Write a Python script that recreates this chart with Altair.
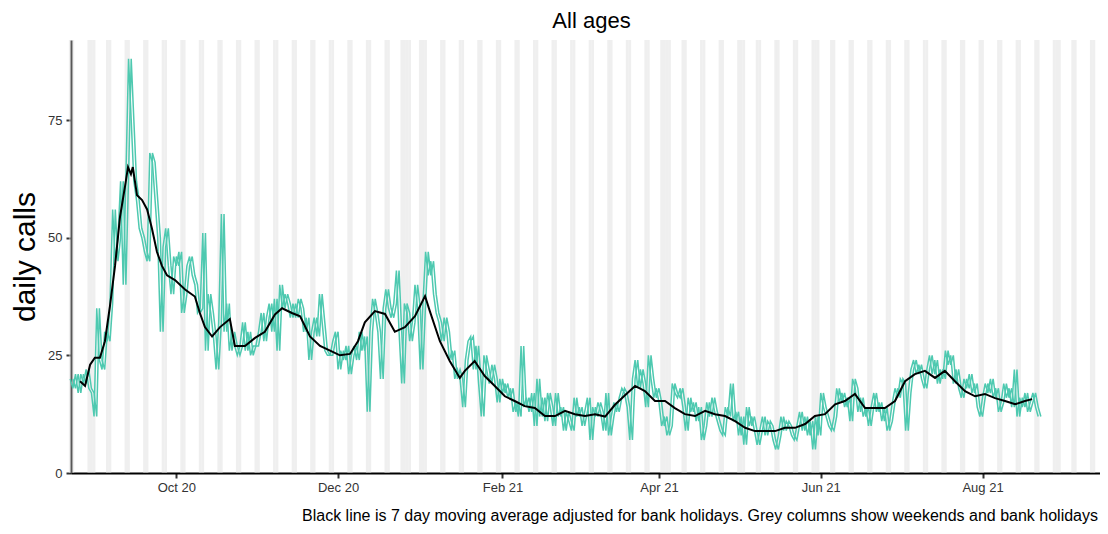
import altair as alt
import pandas as pd

# ---------------- data ----------------
CALLS_START = "2020-08-22"
calls = [
    20, 18, 21, 17, 21, 19, 22,
    18, 17, 12, 35, 24, 22, 30,
    28, 36, 56, 45, 50, 62, 40,
    63, 88, 75, 62, 58, 52, 50,
    47, 45, 68, 66, 58, 50, 30,
    48, 52, 44, 38, 46, 44, 47,
    34, 38, 44, 46, 42, 40, 34,
    35, 51, 26, 38, 34, 29, 22,
    32, 55, 30, 36, 26, 30, 27,
    25, 27, 32, 26, 30, 25, 27,
    27, 30, 34, 28, 33, 36, 30,
    37, 26, 40, 35, 38, 36, 33,
    36, 33, 37, 35, 30, 33, 24,
    30, 33, 29, 38, 32, 26, 25,
    25, 28, 30, 22, 26, 24, 27,
    21, 25, 27, 24, 30, 26, 29,
    13, 30, 37, 34, 30, 20, 35,
    39, 35, 33, 36, 43, 30, 19,
    36, 34, 28, 32, 40, 35, 22,
    36, 47, 42, 45, 38, 34, 32,
    28, 33, 30, 24, 26, 20, 22,
    20, 14, 24, 28, 29, 22, 27,
    19, 12, 25, 22, 19, 23, 20,
    15, 20, 17, 19, 16, 18, 13,
    15, 12, 27, 14, 16, 13, 17,
    10, 20, 12, 16, 11, 17, 14,
    10, 17, 12, 14, 9, 13, 11,
    9, 16, 12, 14, 10, 13, 16,
    7, 14, 12, 15, 13, 9, 17,
    8, 12, 15, 13, 16, 18, 17,
    14, 7, 20, 24, 18, 22, 19,
    14, 25, 20, 16, 18, 15, 10,
    12, 8, 10, 19, 17, 16, 18,
    14, 9, 16, 13, 15, 11, 14,
    7, 10, 15, 12, 16, 13, 11,
    9, 8, 14, 12, 19, 11, 13,
    8, 12, 6, 14, 10, 12, 9,
    6, 9, 12, 8, 11, 10, 7,
    5, 8, 12, 9, 11, 10, 8,
    7, 10, 13, 9, 12, 8, 11,
    5, 12, 8, 17, 14, 12, 10,
    9, 12, 18, 15, 17, 14, 16,
    11, 20, 18, 13, 16, 12, 14,
    10, 14, 17, 13, 15, 11, 14,
    9, 11, 15, 18, 16, 20, 19,
    9, 17, 22, 24, 21, 23, 20,
    18, 22, 25, 21, 24, 19, 22,
    20, 26, 23, 25, 19, 22, 18,
    16, 20, 18, 21, 17, 19, 14,
    12, 16, 19, 17, 20, 16, 18,
    13, 15, 19, 16, 18, 14, 22,
    12, 16, 14, 17, 13, 15, 17,
    14, 12,
]

# 7-day moving average (black line): days since 2020-10-01 and value
MA_ORIGIN = "2020-10-01"
ma_day = [-36.3, -34.4, -32.5, -30.7, -28.8, -26.9, -25.0, -23.1, -21.2, -19.3,
          -18.2, -17.1, -16.4, -14.8, -12.9, -11.0, -9.2, -7.3, -5.4, -3.5,
          -0.5, 3.3, 7.0, 8.9, 10.8, 13.5, 16.5, 20.2, 22.1, 25.9,
          29.7, 33.4, 37.2, 39.9, 43.6, 46.7, 50.4, 54.2, 58.0, 61.7,
          65.5, 68.5, 71.1, 74.9, 78.7, 82.4, 86.2, 90.0, 93.8, 95.6,
          99.4, 103.1, 106.9, 108.8, 112.5, 116.3, 120.1, 123.9, 127.6, 131.4,
          135.2, 139.0, 142.8, 146.6, 150.3, 154.1, 157.9, 161.7, 165.4, 169.2,
          173.0, 176.7, 180.5, 184.3, 188.0, 191.8, 195.6, 199.4, 203.1, 206.9,
          210.7, 214.5, 218.2, 222.0, 225.8, 229.5, 233.3, 237.1, 240.8, 244.6,
          248.4, 252.1, 255.9, 259.7, 263.4, 267.2, 271.0, 274.8, 278.5, 282.3,
          286.1, 289.8, 293.6, 297.4, 301.2, 304.9, 308.7, 312.5, 316.3, 320.0,
          322.7]
ma_val = [19.5, 18.5, 23.0, 24.5, 24.5, 28.0, 35.5, 44.0, 54.5, 61.0,
          65.0, 63.5, 65.0, 59.0, 58.0, 56.0, 52.0, 47.0, 44.0, 42.0,
          41.0, 39.0, 37.5, 34.0, 31.0, 29.0, 31.0, 32.7, 27.0, 27.0,
          28.7, 30.0, 33.7, 35.0, 34.0, 33.3, 29.0, 27.0, 26.0, 25.0,
          25.3, 28.0, 32.0, 34.4, 33.8, 30.0, 31.0, 33.3, 37.6, 34.4,
          28.0, 23.8, 20.2, 21.7, 23.8, 20.6, 18.5, 16.3, 15.3, 14.2,
          13.8, 12.1, 12.1, 13.2, 12.5, 12.1, 12.5, 12.0, 14.5, 16.5,
          18.5, 17.4, 15.3, 15.3, 13.8, 12.5, 12.1, 13.2, 12.5, 12.1,
          11.0, 9.6, 8.9, 8.9, 8.9, 9.6, 9.6, 10.4, 12.1, 12.5,
          14.6, 15.3, 16.8, 13.8, 13.8, 13.8, 15.3, 19.5, 21.0, 21.7,
          20.2, 21.7, 19.5, 17.4, 16.3, 16.8, 15.9, 15.3, 14.6, 15.3,
          15.7]

bank_holidays = ["2020-08-31", "2020-12-25", "2020-12-28", "2021-01-01",
                 "2021-04-02", "2021-04-05", "2021-05-03", "2021-05-31",
                 "2021-08-30"]
columns_first, columns_last = "2020-08-22", "2021-09-12"

x_ticks = ["2020-10-01", "2020-12-01", "2021-02-01", "2021-04-01",
           "2021-06-01", "2021-08-01"]
y_ticks = [0, 25, 50, 75]

title_text = "All ages"
y_title = "daily calls"
caption = ("Black line is 7 day moving average adjusted for bank holidays. "
           "Grey columns show weekends and bank holidays")

# ---------------- tables ----------------
dates = pd.date_range(CALLS_START, periods=len(calls), freq="D")
df_a = pd.DataFrame({"date": dates, "calls": calls, "series": "a"})
df_b = pd.DataFrame({"date": dates + pd.Timedelta(days=1), "calls": calls, "series": "b"})
df_calls = pd.concat([df_a, df_b], ignore_index=True)

df_ma = pd.DataFrame({
    "date": pd.Timestamp(MA_ORIGIN) + pd.to_timedelta(ma_day, unit="D"),
    "ma": ma_val,
})

all_days = pd.date_range(columns_first, columns_last, freq="D")
grey_days = sorted(set([d for d in all_days if d.dayofweek >= 5] +
                       [pd.Timestamp(b) for b in bank_holidays]))
df_cols = pd.DataFrame({
    "start": [d - pd.Timedelta(hours=12) for d in grey_days],
    "end": [d + pd.Timedelta(hours=12) for d in grey_days],
})

W, H = 1029, 433
x_domain = ["2020-08-22T07:12:00", "2021-09-14T07:12:00"]

x_scale = alt.Scale(domain=x_domain, nice=False)
y_scale = alt.Scale(domain=[0, 92.0], nice=False, zero=False)

x_axis = alt.Axis(values=[alt.DateTime(year=int(t[:4]), month=int(t[5:7]), date=1) for t in x_ticks],
                  format="%b %y", title=None, grid=False,
                  domainColor="black", domainWidth=2, tickColor="#333333",
                  tickWidth=2, tickSize=5, labelFont="Liberation Sans",
                  labelFontSize=13, labelColor="#333333", labelPadding=3)
y_axis = alt.Axis(values=y_ticks, title=y_title, grid=False,
                  domainColor="black", domainWidth=2, tickColor="#333333",
                  tickWidth=2, tickSize=5, labelFont="Liberation Sans",
                  labelFontSize=13, labelColor="#333333", labelPadding=4,
                  titleFont="Liberation Sans", titleFontSize=30,
                  titleFontWeight="normal", titleColor="black", titlePadding=7)

cols = alt.Chart(df_cols).mark_rect(color="#dcdcdc", opacity=0.45).encode(
    x=alt.X("start:T", scale=x_scale, axis=x_axis),
    x2="end:T",
    y=alt.value(0),
    y2=alt.value(H),
)

teal = alt.Chart(df_calls).mark_line(color="#4ec9b0", strokeWidth=1.5).encode(
    x=alt.X("date:T", scale=x_scale, axis=x_axis),
    y=alt.Y("calls:Q", scale=y_scale, axis=y_axis),
    detail="series:N",
)

black = alt.Chart(df_ma).mark_line(color="black", strokeWidth=2).encode(
    x=alt.X("date:T", scale=x_scale),
    y=alt.Y("ma:Q", scale=y_scale),
)

cap = alt.Chart(pd.DataFrame({"t": [caption]})).mark_text(
    align="left", baseline="middle", font="Liberation Sans", fontSize=16,
    color="black"
).encode(text="t:N", x=alt.value(231), y=alt.value(H + 43))

chart = alt.layer(cols, teal, black, cap).properties(
    width=W, height=H,
    title=alt.TitleParams(title_text, font="Liberation Sans", fontSize=22,
                          fontWeight="normal", color="black", anchor="middle",
                          offset=7, dx=6),
    autosize=alt.AutoSizeParams(type="none"),
    padding={"left": 63, "top": 32, "right": 0, "bottom": 52},
).configure_view(stroke=None)

chart.save("out.html", embed_options={"renderer": "svg", "actions": False})
